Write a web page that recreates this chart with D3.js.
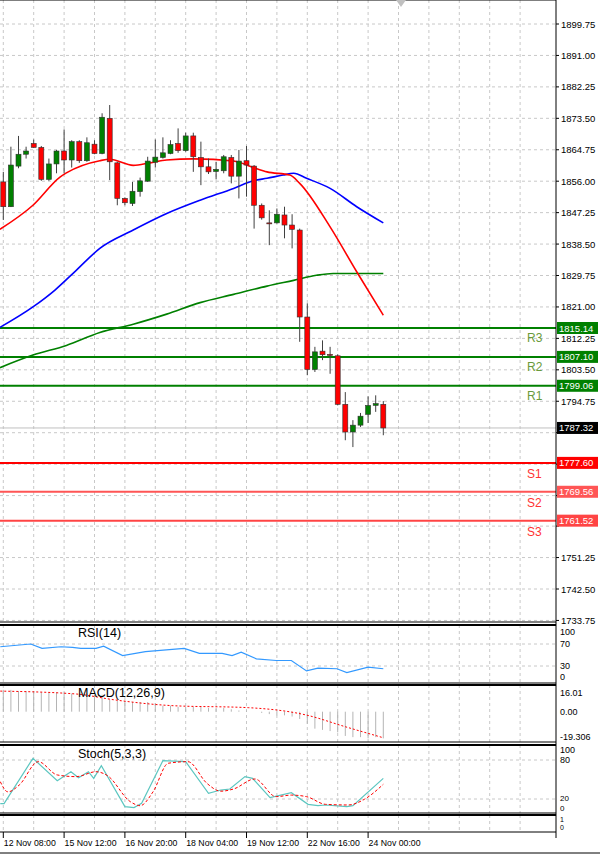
<!DOCTYPE html>
<html><head><meta charset="utf-8">
<script src="https://cdn.jsdelivr.net/npm/d3@7"></script>
<style>body{margin:0;background:#fff}svg{display:block}text{font-family:"Liberation Sans",Arial,sans-serif}</style>
</head><body><svg id="chart" width="600" height="855"></svg>
<script>
// OHLC, H4 bars
const opens  = [1855.8,1848.9,1860.2,1863.5,1866.5,1865.4,1856.5,1860.8,1864.4,1861.9,1867.0,1861.7,1866.3,1863.7,1873.5,1861.1,1851.2,1849.8,1853.1,1856.0,1861.3,1862.6,1863.7,1866.5,1864.5,1868.6,1862.6,1860.0,1858.7,1858.9,1862.6,1857.4,1861.7,1860.2,1849.3,1844.4,1844.4,1846.6,1843.8,1842.4,1818.2,1803.6,1808.7,1807.8,1807.4,1793.9,1786.2,1788.1,1791.1,1793.6,1793.9];
const closes = [1848.9,1860.5,1863.5,1864.4,1865.4,1856.5,1860.8,1864.4,1861.9,1867.0,1861.7,1866.7,1863.7,1873.8,1861.4,1851.2,1850.0,1853.2,1856.1,1861.6,1862.7,1863.9,1866.2,1864.5,1868.6,1862.8,1860.0,1858.6,1859.3,1862.8,1857.4,1861.6,1860.5,1849.3,1845.8,1844.2,1846.8,1843.8,1842.6,1818.2,1803.6,1808.5,1807.7,1807.6,1793.9,1786.2,1788.1,1790.6,1793.6,1794.1,1787.32];
const highs  = [1858.6,1865.6,1868.6,1865.6,1867.6,1865.8,1862.3,1864.7,1870.4,1867.4,1867.4,1868.2,1867.4,1874.9,1877.2,1861.4,1851.5,1855.8,1857.0,1862.8,1867.6,1868.2,1867.4,1870.7,1869.5,1869.5,1867.0,1862.3,1861.4,1863.3,1863.3,1864.7,1865.8,1860.5,1849.8,1847.9,1848.4,1848.9,1846.8,1842.8,1822.0,1809.9,1811.7,1809.9,1807.8,1797.3,1789.5,1791.5,1796.1,1796.4,1794.8];
const lows   = [1845.2,1848.8,1859.6,1862.3,1865.3,1856.1,1856.1,1858.2,1858.2,1859.8,1861.1,1861.4,1863.5,1863.5,1856.3,1849.3,1849.3,1849.1,1851.7,1855.8,1859.8,1862.3,1863.5,1863.9,1864.2,1858.6,1854.9,1858.0,1856.5,1858.2,1855.4,1851.2,1851.7,1842.8,1845.3,1838.2,1844.2,1840.1,1837.3,1811.3,1802.0,1802.9,1806.2,1802.4,1793.6,1783.9,1782.0,1787.6,1788.7,1791.8,1785.3];

// moving averages: [bar index, price]
const maRed   = [[-0.44,1842.6],[3.9,1849.3],[7.5,1857.2],[8.3,1858.3],[12.7,1861.7],[14.0,1862.1],[17.1,1860.4],[19.3,1861.1],[21.5,1861.9],[25,1862.2],[30.3,1861.6],[32.9,1859.8],[34.7,1858.6],[37.7,1857.7],[39.0,1855.4],[43,1843.3],[46.5,1830.8],[50,1818.7]];
const maBlue  = [[-0.44,1815.3],[3.9,1821.0],[6.8,1825.7],[9.6,1831.2],[12.7,1837.3],[17.1,1842.4],[21.5,1847.0],[25.9,1850.7],[30.3,1854.0],[32.9,1856.1],[34.7,1856.8],[36.8,1857.7],[38.2,1858.2],[39.9,1856.8],[43,1854.0],[46.5,1848.9],[50,1844.4]];
const maGreen = [[-0.44,1804.1],[3.9,1807.6],[8.3,1810.3],[12.7,1813.9],[17.1,1816.2],[21.5,1819.0],[25.9,1822.2],[30.3,1824.5],[34.7,1826.8],[38.2,1828.4],[41.2,1829.8],[43.4,1830.3],[50,1830.3]];

const resist = [{name:'R3',v:1815.14},{name:'R2',v:1807.10},{name:'R1',v:1799.06}];
const support = [{name:'S1',v:1777.60,c:'#ff0000'},{name:'S2',v:1769.56,c:'#ff5555'},{name:'S3',v:1761.52,c:'#ff4444'}];
const lastPrice = 1787.32;

const priceTicks = [1899.75,1891.00,1882.25,1873.50,1864.75,1856.00,1847.25,1838.50,1829.75,1821.00,1812.25,1803.50,1794.75,1786.00,1777.25,1768.50,1760.00,1751.25,1742.50,1733.75];
const dateLabels = ['12 Nov 08:00','15 Nov 12:00','16 Nov 20:00','18 Nov 04:00','19 Nov 12:00','22 Nov 16:00','24 Nov 00:00'];

const rsi = [[-0.4,65],[3.6,70],[5.1,62],[7.6,65],[9.1,64],[10.2,62],[12.2,62],[13.2,66],[15.7,49],[18.7,56],[23.8,62],[25.8,53],[28.8,53],[30.1,49],[31.3,55],[33.3,43],[35.9,40],[37.9,40],[39.9,21],[41.4,26],[43.9,25],[45.2,18],[48,28],[50,25]];
const macdHist = [18,18,17,17,17,16,16,16,16,15,15,15,14,14,10,9,9,8,8,8,7,5,5,4,4,4,4,3,3,3,2,1,1,0,-1,-2,-3,-3,-4,-6,-10,-14,-15,-16,-17,-20,-21,-21,-22,-21,-22];
const macdSignal = [[-0.4,17],[9.6,14.6],[14.7,9.7],[22.2,5],[32.3,3.3],[39.9,-2.8],[45,-12.4],[50,-21.5]];
const stochK = [[-0.4,13],[0.1,13],[3.9,82.6],[7.1,48.2],[8.9,62],[9.9,52.8],[11.2,62],[11.9,51.8],[12.9,71.3],[16.0,8.2],[17.2,6.7],[18.2,13.3],[21.0,79],[24.0,77.4],[27.0,28.7],[28.6,33.8],[29.8,35.4],[31.8,54.4],[32.8,51.8],[35.1,22],[37.9,29.7],[40.1,11.8],[41.4,9.7],[42.4,10.8],[45.2,8.2],[46.0,9.7],[50,51.8]];
const stochD = [[-0.4,46.7],[0.6,31],[2.1,41.5],[4.6,77.4],[7.1,57],[9.6,54.4],[12.2,62],[13.7,56],[16.7,16],[18.0,9.7],[19.7,31],[21.7,75],[24.3,77.4],[26.8,44],[28.6,32],[30.3,35.4],[33.1,50.8],[35.9,23.6],[37.9,26],[39.9,23.6],[42.4,11.8],[45.4,10.8],[47.5,19.5],[50,42.6]];

const svg = d3.select('#chart');
const W = 556;
const x = d3.scaleLinear().domain([0, 50]).range([3.3, 383.3]);
const y = d3.scaleLinear().domain([1742.5, 1899.75]).range([589, 24]);

const panels = [
  {top: 0, bottom: 622},
  {top: 625, bottom: 683},
  {top: 685, bottom: 742},
  {top: 745, bottom: 813},
  {top: 815, bottom: 832},
];

svg.append('defs').append('clipPath').attr('id', 'clip')
  .append('rect').attr('x', 0).attr('y', 0).attr('width', W).attr('height', 622);

// vertical grid, every 4 bars
const gridIdx = d3.range(0, 72, 4);
panels.forEach((p) => {
  svg.append('g').selectAll('line').data(gridIdx.filter((i) => x(i) < W)).join('line')
    .attr('x1', (i) => x(i)).attr('x2', (i) => x(i))
    .attr('y1', p.top).attr('y2', p.bottom)
    .attr('stroke', '#c8c8c8').attr('stroke-dasharray', '3,3');
});

// horizontal price grid + axis labels
const gMain = svg.append('g');
gMain.selectAll('line.hg').data(priceTicks).join('line').classed('hg', true)
  .attr('x1', 0).attr('x2', W).attr('y1', (d) => y(d)).attr('y2', (d) => y(d))
  .attr('stroke', '#c8c8c8').attr('stroke-dasharray', '3,3');
gMain.selectAll('line.tk').data(priceTicks).join('line').classed('tk', true)
  .attr('x1', W).attr('x2', W + 3).attr('y1', (d) => y(d)).attr('y2', (d) => y(d)).attr('stroke', '#000');
// labels hidden behind a price tag are skipped
const tagVals = resist.map((r) => r.v).concat(support.map((s) => s.v), [lastPrice]);
gMain.selectAll('text').data(priceTicks.filter((d) => !tagVals.some((t) => Math.abs(y(t) - y(d)) < 9))).join('text')
  .attr('x', 561).attr('y', (d) => y(d) + 3.5).attr('font-size', 9.5).attr('fill', '#000')
  .text((d) => d.toFixed(2));

// support / resistance
const chart = svg.append('g').attr('clip-path', 'url(#clip)');
chart.append('line').attr('x1', 0).attr('x2', W).attr('y1', y(lastPrice)).attr('y2', y(lastPrice)).attr('stroke', '#c0c0c0');
resist.forEach((r) => {
  chart.append('line').attr('x1', 0).attr('x2', W).attr('y1', y(r.v)).attr('y2', y(r.v)).attr('stroke', '#008000').attr('stroke-width', 2);
  chart.append('text').attr('x', 527).attr('y', y(r.v) + 14).attr('font-size', 12).attr('fill', '#6a9a3a').text(r.name);
});
support.forEach((s) => {
  chart.append('line').attr('x1', 0).attr('x2', W).attr('y1', y(s.v)).attr('y2', y(s.v)).attr('stroke', s.c).attr('stroke-width', 2);
  chart.append('text').attr('x', 527).attr('y', y(s.v) + 15).attr('font-size', 12).attr('fill', '#ff3333').text(s.name);
});

// moving averages
const line = d3.line().x((d) => x(d[0])).y((d) => y(d[1])).curve(d3.curveMonotoneX);
[[maGreen, '#008000'], [maBlue, '#0000ff'], [maRed, '#ff0000']].forEach(([d, c]) => {
  chart.append('path').datum(d).attr('d', line).attr('fill', 'none').attr('stroke', c).attr('stroke-width', 1.6);
});

// candles
const bars = d3.range(opens.length);
chart.selectAll('line.wick').data(bars).join('line').classed('wick', true)
  .attr('x1', (i) => x(i)).attr('x2', (i) => x(i))
  .attr('y1', (i) => y(highs[i])).attr('y2', (i) => y(lows[i]))
  .attr('stroke', '#404040');
chart.selectAll('rect.body').data(bars).join('rect').classed('body', true)
  .attr('x', (i) => x(i) - 2.5).attr('width', 5)
  .attr('y', (i) => y(Math.max(opens[i], closes[i])))
  .attr('height', (i) => Math.max(1, Math.abs(y(opens[i]) - y(closes[i]))))
  .attr('fill', (i) => (closes[i] >= opens[i] ? '#008000' : '#ff0000'))
  .attr('stroke', '#303030').attr('stroke-width', 0.6);

// price label boxes on axis
function tag(v, fill, txt) {
  svg.append('rect').attr('x', W + 1).attr('y', y(v) - 6).attr('width', 41).attr('height', 12).attr('fill', fill);
  svg.append('text').attr('x', W + 3).attr('y', y(v) + 3.5).attr('font-size', 9.5).attr('fill', txt).text(v.toFixed(2));
}
resist.forEach((r) => tag(r.v, '#008000', '#fff'));
support.forEach((s) => tag(s.v, s.c, '#fff'));
tag(lastPrice, '#000', '#fff');

// RSI
const yR = d3.scaleLinear().domain([0, 100]).range([682.5, 627.5]);
[70, 30].forEach((v) => svg.append('line').attr('x1', 0).attr('x2', W).attr('y1', yR(v)).attr('y2', yR(v)).attr('stroke', '#c8c8c8').attr('stroke-dasharray', '3,3'));
svg.append('path').datum(rsi).attr('d', d3.line().x((d) => x(d[0])).y((d) => yR(d[1])))
  .attr('fill', 'none').attr('stroke', '#3399ff').attr('stroke-width', 1.2);

// MACD
const yM = d3.scaleLinear().domain([0, 16.01]).range([711.7, 692.3]);
svg.selectAll('line.mh').data(bars).join('line').classed('mh', true)
  .attr('x1', (i) => x(i)).attr('x2', (i) => x(i))
  .attr('y1', yM(0)).attr('y2', (i) => yM(macdHist[i]))
  .attr('stroke', '#b4b4b4');
svg.append('path').datum(macdSignal).attr('d', d3.line().x((d) => x(d[0])).y((d) => yM(d[1])).curve(d3.curveMonotoneX))
  .attr('fill', 'none').attr('stroke', '#ff0000').attr('stroke-dasharray', '2,2');

// Stochastic
const yS = d3.scaleLinear().domain([0, 100]).range([812, 747]);
[80, 20].forEach((v) => svg.append('line').attr('x1', 0).attr('x2', W).attr('y1', yS(v)).attr('y2', yS(v)).attr('stroke', '#c8c8c8').attr('stroke-dasharray', '3,3'));
svg.append('path').datum(stochK).attr('d', d3.line().x((d) => x(d[0])).y((d) => yS(d[1])))
  .attr('fill', 'none').attr('stroke', '#5cc6c0').attr('stroke-width', 1.2);
svg.append('path').datum(stochD).attr('d', d3.line().x((d) => x(d[0])).y((d) => yS(d[1])).curve(d3.curveMonotoneX))
  .attr('fill', 'none').attr('stroke', '#ff0000').attr('stroke-dasharray', '3,2');

// panel titles
[['RSI(14)', 637], ['MACD(12,26,9)', 697], ['Stoch(5,3,3)', 758]].forEach(([t, yy]) => {
  svg.append('text').attr('x', 78).attr('y', yy).attr('font-size', 12.5).attr('fill', '#000').text(t);
});

// sub-panel axis labels
const subLabels = [['100', 635, 9], ['70', 647, 9], ['30', 669, 9], ['0', 680, 9], ['16.01', 696, 9], ['0.00', 715, 9], ['-19.306', 740, 9],
  ['100', 753, 9], ['80', 763, 9], ['20', 801, 8], ['0', 810.5, 8], ['1', 821.5, 7], ['0', 829.5, 7]];
svg.selectAll('text.sl').data(subLabels).join('text').classed('sl', true)
  .attr('x', 560).attr('y', (d) => d[1]).attr('font-size', (d) => d[2]).text((d) => d[0]);

// panel frames
panels.forEach((p) => {
  svg.append('line').attr('x1', 0).attr('x2', W).attr('y1', p.top).attr('y2', p.top).attr('stroke', '#000').attr('stroke-width', p.top ? 2 : 1);
  svg.append('line').attr('x1', 0).attr('x2', W).attr('y1', p.bottom).attr('y2', p.bottom).attr('stroke', '#000');
});
svg.append('line').attr('x1', W).attr('x2', W).attr('y1', 0).attr('y2', 838).attr('stroke', '#000');
svg.append('line').attr('x1', 0).attr('x2', 600).attr('y1', 853).attr('y2', 853).attr('stroke', '#000');
svg.append('path').attr('d', 'M396,0 L406,0 L401,7 Z').attr('fill', '#c0c0c0');

// date axis
svg.selectAll('text.dl').data(dateLabels).join('text').classed('dl', true)
  .attr('x', (d, i) => x(i * 8) + 0.5).attr('y', 846).attr('font-size', 9)
  .attr('textLength', 52).attr('lengthAdjust', 'spacingAndGlyphs').text((d) => d);
svg.selectAll('line.dt').data(dateLabels).join('line').classed('dt', true)
  .attr('x1', (d, i) => x(i * 8)).attr('x2', (d, i) => x(i * 8)).attr('y1', 832).attr('y2', 838).attr('stroke', '#000');
</script></body></html>
